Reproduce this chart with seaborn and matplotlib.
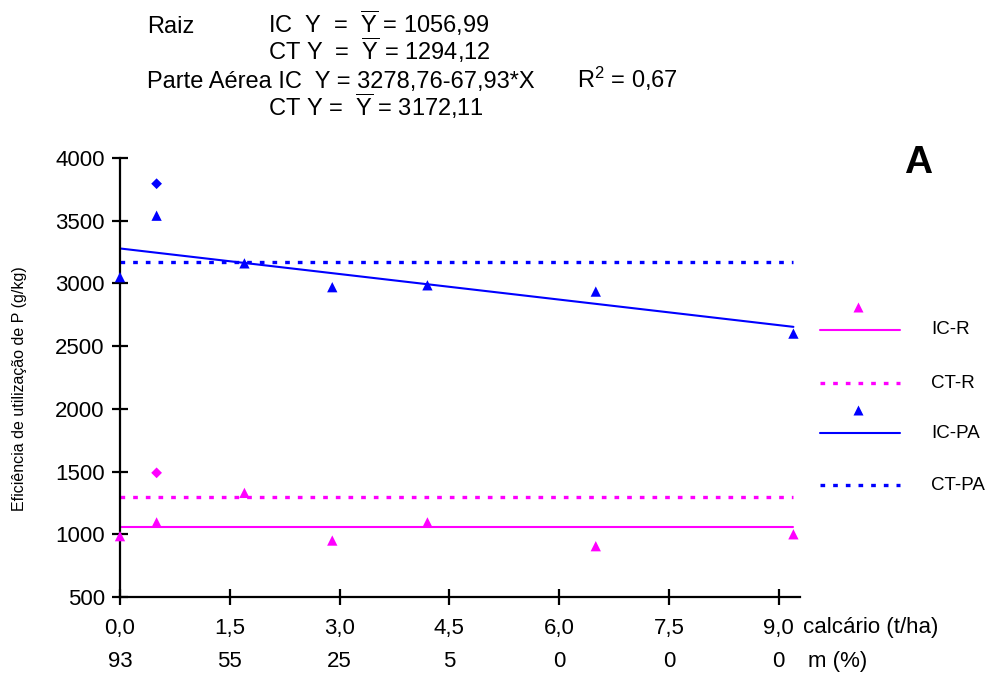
import matplotlib
matplotlib.use("Agg")
import numpy as np
import pandas as pd
import matplotlib.pyplot as plt
from matplotlib.lines import Line2D
import seaborn as sns

# Lime doses (t/ha) and the matching Al saturation labels
calcario = [0.0, 0.5, 1.7, 2.9, 4.2, 6.5, 9.2]
ic_pa = [3050, 3540, 3160, 2970, 2985, 2935, 2600]
ic_r = [985, 1095, 1330, 950, 1095, 905, 1000]
extra_x = [0.5]
extra_pa = [3795]
extra_r = [1490]

mean_ic_r = 1056.99
mean_ct_r = 1294.12
mean_ct_pa = 3172.11
b0, b1 = 3278.76, -67.93
x_end = 9.2

xticks = [0.0, 1.5, 3.0, 4.5, 6.0, 7.5, 9.0]
xtick_labels = ["0,0", "1,5", "3,0", "4,5", "6,0", "7,5", "9,0"]
m_labels = ["93", "55", "25", "5", "0", "0", "0"]
yticks = [500, 1000, 1500, 2000, 2500, 3000, 3500, 4000]

MAG = "#FF00FF"
BLUE = "#0000FF"
DOTTED = (0, (1.4, 2.4))

sns.set_theme(style="white")
plt.rcParams["font.family"] = ["Liberation Sans", "DejaVu Sans"]
plt.rcParams["mathtext.fontset"] = "custom"
plt.rcParams["mathtext.rm"] = "Liberation Sans"
plt.rcParams["mathtext.it"] = "Liberation Sans"
for key in ["text.color", "axes.labelcolor", "xtick.color", "ytick.color"]:
    plt.rcParams[key] = "black"

fig = plt.figure(figsize=(9.86, 6.73), dpi=100)
ax = fig.add_axes([120 / 986, 1 - 597 / 673, 680 / 986, 439 / 673])

# fitted / mean lines
xs = np.array([0.0, x_end])
lines = pd.DataFrame({
    "x": np.concatenate([xs] * 4),
    "y": np.concatenate([
        np.full(2, mean_ic_r), np.full(2, mean_ct_r),
        b0 + b1 * xs, np.full(2, mean_ct_pa)]),
    "serie": ["IC-R"] * 2 + ["CT-R"] * 2 + ["IC-PA"] * 2 + ["CT-PA"] * 2,
})
styles = [("IC-R", MAG, "-", 1.5), ("CT-R", MAG, DOTTED, 2.4),
          ("IC-PA", BLUE, "-", 1.5), ("CT-PA", BLUE, DOTTED, 2.4)]
for name, color, ls, lw in styles:
    sub = lines[lines["serie"] == name]
    sns.lineplot(data=sub, x="x", y="y", color=color, linewidth=lw, ax=ax,
                 legend=False, zorder=2)
    ax.lines[-1].set_linestyle(ls)

# observed points
pts = pd.DataFrame({"x": calcario, "pa": ic_pa, "r": ic_r})
sns.scatterplot(data=pts, x="x", y="pa", marker="^", s=55, color=BLUE,
                edgecolor="none", ax=ax, zorder=3, clip_on=False)
sns.scatterplot(data=pts, x="x", y="r", marker="^", s=55, color=MAG,
                edgecolor="none", ax=ax, zorder=3, clip_on=False)
sns.scatterplot(x=extra_x, y=extra_pa, marker="D", s=30, color=BLUE,
                edgecolor="none", ax=ax, zorder=3)
sns.scatterplot(x=extra_x, y=extra_r, marker="D", s=30, color=MAG,
                edgecolor="none", ax=ax, zorder=3)

ax.set_xlim(0, 9.29)
ax.set_ylim(500, 4000)
ax.set_yticks(yticks)
ax.set_yticklabels([str(v) for v in yticks], fontsize=16)
ax.set_xticks(xticks)
ax.set_xticklabels([f"{a}\n{b}" for a, b in zip(xtick_labels, m_labels)],
                   fontsize=16, linespacing=1.75)
ax.set_xlabel("")
ax.set_ylabel("Eficiência de utilização de P (g/kg)", fontsize=11.5)
ax.yaxis.set_label_coords(-0.137, 0.474)
for s in ["top", "right"]:
    ax.spines[s].set_visible(False)
for s in ["left", "bottom"]:
    ax.spines[s].set_color("black")
    ax.spines[s].set_linewidth(1.6)
ax.tick_params(axis="both", direction="inout", length=12, width=1.6, color="black",
               labelcolor="black", left=True, bottom=True)
ax.tick_params(axis="x", pad=9)
ax.tick_params(axis="y", pad=5)

ax.text(1.005, -0.07, "calcário (t/ha)", transform=ax.transAxes, fontsize=16,
        va="center", ha="left")
ax.text(1.012, -0.148, "m (%)", transform=ax.transAxes, fontsize=16,
        va="center", ha="left")

fig.text(918 / 986, 1 - 163 / 673, "A", fontsize=28, fontweight="bold",
         ha="center", va="center")

# legend drawn in figure space
def fx(px):
    return px / 986

def fy(py):
    return 1 - py / 673

legend_rows = [
    ("IC-R", MAG, "-", 1.5, 307, 330),
    ("CT-R", MAG, DOTTED, 2.4, None, 383),
    ("IC-PA", BLUE, "-", 1.5, 410, 433),
    ("CT-PA", BLUE, DOTTED, 2.4, None, 485),
]
for label, color, ls, lw, my, ly in legend_rows:
    fig.add_artist(Line2D([fx(820), fx(900)], [fy(ly), fy(ly)], color=color,
                          linestyle=ls, linewidth=lw))
    if my is not None:
        fig.add_artist(Line2D([fx(858)], [fy(my)], marker="^", markersize=7,
                              color=color, markeredgecolor="none", linestyle="none"))
    fig.text(fx(931), fy(ly), label, fontsize=13.5, va="center", ha="left")

# equations
ybar = r"$\overline{\mathrm{Y}}$"
fs = 17
fig.text(fx(147), fy(33), "Raiz", fontsize=fs, va="baseline")
fig.text(fx(268), fy(33), "IC  Y  =  " + ybar + " = 1056,99", fontsize=fs, va="baseline")
fig.text(fx(268), fy(60), "CT Y  =  " + ybar + " = 1294,12", fontsize=fs, va="baseline")
fig.text(fx(147), fy(88), "Parte Aérea IC  Y = 3278,76-67,93*X", fontsize=fs, va="baseline")
fig.text(fx(577), fy(88), r"R$^{2}$ = 0,67", fontsize=fs, va="baseline")
fig.text(fx(268), fy(116), "CT Y =  " + ybar + " = 3172,11", fontsize=fs, va="baseline")

fig.savefig("out.png", dpi=100, facecolor="white")
